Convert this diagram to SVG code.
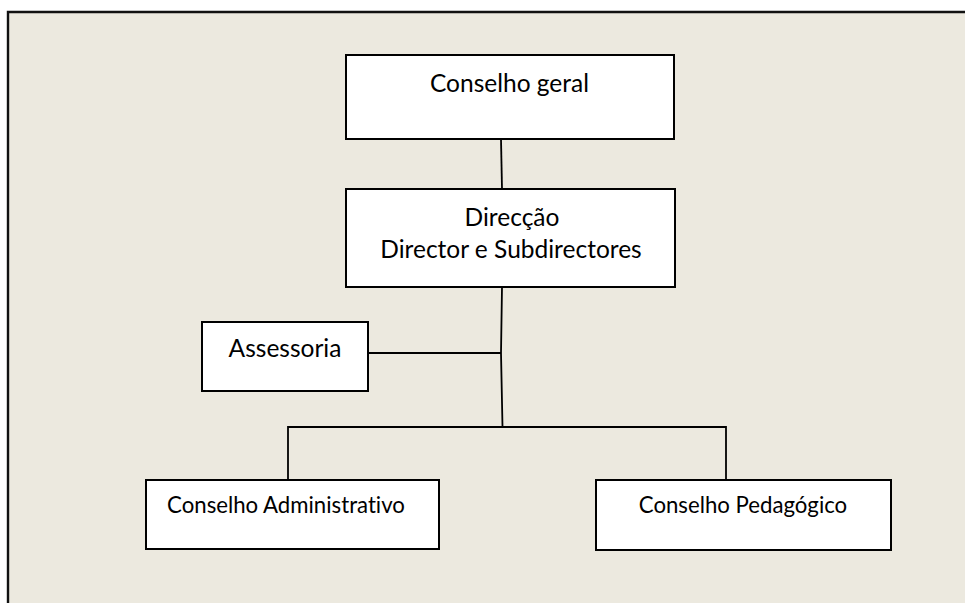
<svg xmlns="http://www.w3.org/2000/svg" width="965" height="603" viewBox="0 0 965 603">
  <style>
    .box { fill: #ffffff; stroke: #000000; stroke-width: 2; }
    .wire { fill: none; stroke: #000000; stroke-width: 1.8; stroke-linejoin: miter; }
    .lbl { font-family: Lato, "Open Sans", "Liberation Sans", sans-serif; fill: #000000; text-anchor: middle; font-variant-ligatures: none; }
    .big { font-size: 24.5px; }
    .small { font-size: 22.2px; }
  </style>

  <!-- page background and frame -->
  <rect x="0" y="0" width="965" height="603" fill="#ffffff"/>
  <rect x="8" y="12" width="960" height="595" fill="#ECE9DF"/>
  <path d="M8,603 L8,12 L965,12" fill="none" stroke="#111111" stroke-width="2.4"/>

  <!-- connectors -->
  <g id="connectors">
    <path class="wire" d="M501,139 L502,189"/>
    <path class="wire" d="M502,287 L501,353 L502.5,427"/>
    <path class="wire" d="M368,353 L501,353"/>
    <path class="wire" d="M288,480 L288,427 L726,427 L726,480"/>
  </g>

  <g id="conselho-geral">
    <rect class="box" x="346" y="55" width="328" height="84"/>
    <text class="lbl big" x="509.5" y="92">Conselho geral</text>
  </g>

  <g id="direccao">
    <rect class="box" x="346" y="189" width="329" height="98"/>
    <text class="lbl big" x="512" y="225.5">Direcção</text>
    <text class="lbl big" x="511" y="258.3">Director e Subdirectores</text>
  </g>

  <g id="assessoria">
    <rect class="box" x="202" y="322" width="166" height="69"/>
    <text class="lbl big" x="285" y="357.3">Assessoria</text>
  </g>

  <g id="conselho-administrativo">
    <rect class="box" x="146" y="480" width="293" height="69"/>
    <text class="lbl small" x="286" y="513.3">Conselho Administrativo</text>
  </g>

  <g id="conselho-pedagogico">
    <rect class="box" x="596" y="480" width="295" height="70"/>
    <text class="lbl small" x="743" y="513.3">Conselho Pedagógico</text>
  </g>
</svg>
